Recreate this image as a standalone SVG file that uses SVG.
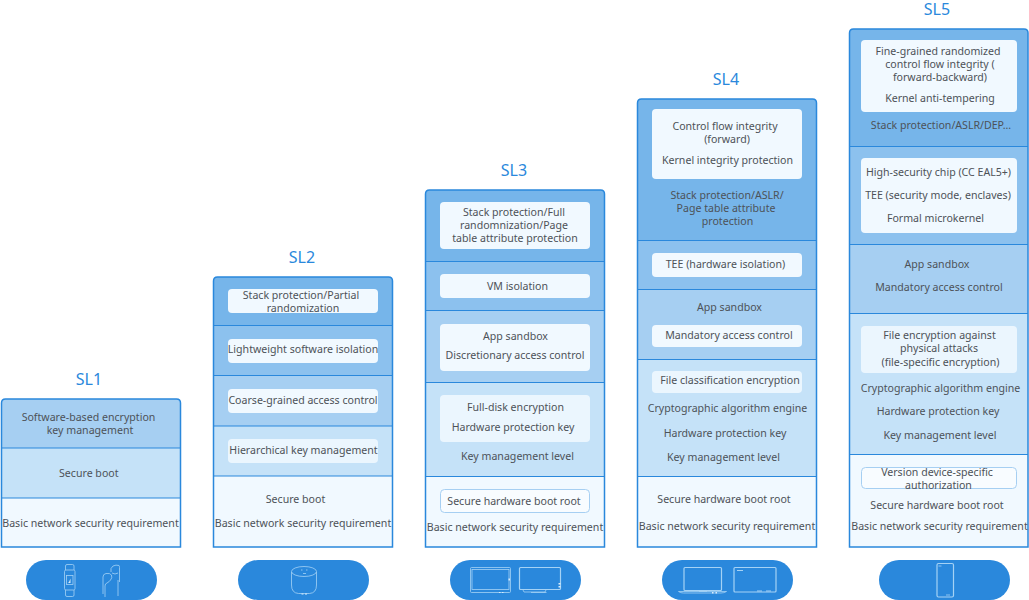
<svg xmlns="http://www.w3.org/2000/svg" width="1029" height="600" viewBox="0 0 1029 600">
<style>
text{font-family:"Noto Sans","Open Sans","Liberation Sans",sans-serif;font-size:10.6px;fill:#4d5258;text-anchor:middle}
.t{font-size:16px;fill:#2a88dc}
.o{fill:none;stroke:#2a88dc;stroke-width:1.5}
.d{stroke:#2a88dc;stroke-width:1.2;fill:none}
.a{fill:#76b5ea}.b{fill:#8cc1ee}.c{fill:#a6cff2}.e{fill:#c5e2f8}.f{fill:#f1f9ff}
.i{fill:#f1f9ff}.j{fill:#ebf6fe}.k{fill:#f8fcff;stroke:#a6cff2;stroke-width:1}
.p{fill:#2a88dc}
.g{fill:none;stroke:#a5d2f5;stroke-width:.8}
.h{fill:none;stroke:#a5d2f5;stroke-width:1.2}
.w{fill:#d8ecfb}
</style>
<g id="sl1">
<text class="t" x="89" y="385">SL1</text>
<path class="c" d="M1.5 448V403q0-4 4-4H176.500q4 0 4 4V448Z"/>
<rect class="e" x="1.500" y="448" width="179" height="50"/>
<rect class="f" x="1.500" y="498" width="179" height="49"/>
<path class="d" d="M1.500 448H180.500M1.500 498H180.500"/>
<path class="o" d="M1.500 547V403q0-4 4-4H176.500q4 0 4 4V547Z"/>
<text x="88.500" y="421">Software-based encryption</text>
<text x="90" y="434">key management</text>
<text x="88.800" y="477">Secure boot</text>
<text x="90.500" y="527">Basic network security requirement</text>
</g>
<g id="sl2">
<text class="t" x="302" y="263">SL2</text>
<path class="a" d="M213.500 325.500V281q0-4 4-4H388.500q4 0 4 4V325.500Z"/>
<rect class="b" x="213.500" y="325.500" width="179" height="50"/>
<rect class="c" x="213.500" y="375.500" width="179" height="50.500"/>
<rect class="e" x="213.500" y="426" width="179" height="50"/>
<rect class="f" x="213.500" y="476" width="179" height="71"/>
<path class="d" d="M213.500 325.500H392.500M213.500 375.500H392.500M213.500 426H392.500M213.500 476H392.500"/>
<path class="o" d="M213.500 547V281q0-4 4-4H388.500q4 0 4 4V547Z"/>
<rect class="i" x="228" y="289" width="150" height="24" rx="4"/>
<rect class="i" x="228" y="339" width="150" height="24" rx="4"/>
<rect class="i" x="228" y="389" width="150" height="24" rx="4"/>
<rect class="j" x="228" y="439" width="150" height="24" rx="4"/>
<text x="301" y="299">Stack protection/Partial</text>
<text x="303" y="312">randomization</text>
<text x="303" y="353">Lightweight software isolation</text>
<text x="303" y="403.500">Coarse-grained access control</text>
<text x="303.500" y="453.500">Hierarchical key management</text>
<text x="295.500" y="503">Secure boot</text>
<text x="303" y="527">Basic network security requirement</text>
</g>
<g id="sl3">
<text class="t" x="514" y="176">SL3</text>
<path class="a" d="M425.500 261.500V194q0-4 4-4H600.500q4 0 4 4V261.500Z"/>
<rect class="b" x="425.500" y="261.500" width="179" height="49"/>
<rect class="c" x="425.500" y="310.500" width="179" height="72"/>
<rect class="e" x="425.500" y="382.500" width="179" height="94"/>
<rect class="f" x="425.500" y="476.500" width="179" height="70.500"/>
<path class="d" d="M425.500 261.500H604.500M425.500 310.500H604.500M425.500 382.500H604.500M425.500 476.500H604.500"/>
<path class="o" d="M425.500 547V194q0-4 4-4H600.500q4 0 4 4V547Z"/>
<rect class="i" x="440" y="202" width="150" height="47" rx="4"/>
<rect class="i" x="440" y="274" width="150" height="24" rx="4"/>
<rect class="i" x="440" y="324" width="150" height="47" rx="4"/>
<rect class="j" x="440" y="395" width="150" height="47" rx="4"/>
<rect class="k" x="440.500" y="489.500" width="149" height="23" rx="4"/>
<text x="514" y="216">Stack protection/Full</text>
<text x="514" y="229">randomnization/Page</text>
<text x="515" y="242">table attribute protection</text>
<text x="517.500" y="290">VM isolation</text>
<text x="515.500" y="340">App sandbox</text>
<text x="515" y="359">Discretionary access control</text>
<text x="515.500" y="411">Full-disk encryption</text>
<text x="513" y="431">Hardware protection key</text>
<text x="517.500" y="460">Key management level</text>
<text x="514" y="505">Secure hardware boot root</text>
<text x="515" y="531">Basic network security requirement</text>
</g>
<g id="sl4">
<text class="t" x="726" y="85">SL4</text>
<path class="a" d="M637.500 240.500V103q0-4 4-4H812.500q4 0 4 4V240.500Z"/>
<rect class="b" x="637.500" y="240.500" width="179" height="49"/>
<rect class="c" x="637.500" y="289.500" width="179" height="70"/>
<rect class="e" x="637.500" y="359.500" width="179" height="117"/>
<rect class="f" x="637.500" y="476.500" width="179" height="70.500"/>
<path class="d" d="M637.500 240.500H816.500M637.500 289.500H816.500M637.500 359.500H816.500M637.500 476.500H816.500"/>
<path class="o" d="M637.500 547V103q0-4 4-4H812.500q4 0 4 4V547Z"/>
<rect class="i" x="652" y="109" width="150" height="70" rx="4"/>
<rect class="i" x="652" y="253" width="150" height="24" rx="4"/>
<rect class="i" x="652" y="325" width="150" height="22" rx="4"/>
<rect class="j" x="652" y="371" width="150" height="22" rx="4"/>
<text x="725" y="130">Control flow integrity</text>
<text x="727" y="143">(forward)</text>
<text x="727.500" y="164">Kernel integrity protection</text>
<text x="727" y="199">Stack protection/ASLR/</text>
<text x="726" y="212">Page table attribute</text>
<text x="727.500" y="225">protection</text>
<text x="725.500" y="268">TEE (hardware isolation)</text>
<text x="729.500" y="311">App sandbox</text>
<text x="729" y="339">Mandatory access control</text>
<text x="730" y="384">File classification encryption</text>
<text x="727.500" y="412">Cryptographic algorithm engine</text>
<text x="725" y="437">Hardware protection key</text>
<text x="723.500" y="461">Key management level</text>
<text x="724" y="503">Secure hardware boot root</text>
<text x="727" y="530">Basic network security requirement</text>
</g>
<g id="sl5">
<text class="t" x="937" y="15">SL5</text>
<path class="a" d="M849.500 146.500V33q0-4 4-4H1024q4 0 4 4V146.500Z"/>
<rect class="b" x="849.500" y="146.500" width="178.500" height="98"/>
<rect class="c" x="849.500" y="244.500" width="178.500" height="69"/>
<rect class="e" x="849.500" y="313.500" width="178.500" height="141"/>
<rect class="f" x="849.500" y="454.500" width="178.500" height="92.500"/>
<path class="d" d="M849.500 146.500H1028M849.500 244.500H1028M849.500 313.500H1028M849.500 454.500H1028"/>
<path class="o" d="M849.500 547V33q0-4 4-4H1024q4 0 4 4V547Z"/>
<rect class="i" x="861" y="40" width="156" height="72" rx="4"/>
<rect class="i" x="861" y="158" width="156" height="75" rx="4"/>
<rect class="j" x="861" y="326" width="156" height="47" rx="4"/>
<rect class="k" x="861.500" y="467.500" width="155" height="21" rx="4"/>
<text x="938" y="55">Fine-grained randomized</text>
<text x="940" y="68">control flow integrity (</text>
<text x="940" y="81">forward-backward)</text>
<text x="940" y="102">Kernel anti-tempering</text>
<text x="941" y="129">Stack protection/ASLR/DEP...</text>
<text x="938.500" y="176">High-security chip (CC EAL5+)</text>
<text x="938" y="199">TEE (security mode, enclaves)</text>
<text x="935.500" y="222">Formal microkernel</text>
<text x="937" y="268">App sandbox</text>
<text x="939" y="291">Mandatory access control</text>
<text x="939.500" y="339">File encryption against</text>
<text x="939" y="352">physical attacks</text>
<text x="940.500" y="366">(file-specific encryption)</text>
<text x="940.500" y="392">Cryptographic algorithm engine</text>
<text x="938" y="415">Hardware protection key</text>
<text x="940" y="439">Key management level</text>
<text x="937" y="476">Version device-specific</text>
<text x="938.500" y="489">authorization</text>
<text x="937" y="509">Secure hardware boot root</text>
<text x="939.500" y="530">Basic network security requirement</text>
</g>
<g id="device1">
<rect class="p" x="26" y="560" width="131" height="40" rx="20"/>
<path class="g" d="M65.500 570V566q0-1.500 1.500-1.500h5.500q1.500 0 1.500 1.500V570M65.500 590v5q0 1.500 1.500 1.500h5.500q1.500 0 1.500-1.500V590"/>
<rect class="g" x="64.500" y="570" width="10.500" height="20" rx="1.500"/>
<rect class="g" x="66.500" y="575.500" width="6.500" height="9"/>
<path class="w" d="M69 582l1.500-3.500v4.500h-2.500z"/>
<path class="g" d="M103 594V577q0-3 3-3.500 4-.6 5.500 1.500 1 3-1 5-1.500 2-3.500 3-2 .5-2 3V594M105 594v3"/>
<path class="g" d="M111 572q-1-4 2-6 3-1.500 6-.5 .5 .5 .5 2V582M118 580v16M112 573q3 2 6 0"/>
</g>
<g id="device2">
<rect class="p" x="238" y="560" width="131" height="40" rx="20"/>
<path class="g" d="M291.500 572V585q0 8 7 8.500h11q7-.5 7-8.500V572"/>
<ellipse class="g" cx="304" cy="571.500" rx="12.500" ry="5"/>
<path class="g" d="M301 570h1.500M306 570h1.500M303 573.500h3"/>
<path class="w" d="M301.500 593.500h2v1h-2zM305 593.500h2v1h-2z"/>
</g>
<g id="device3">
<rect class="p" x="450" y="560" width="131" height="40" rx="20"/>
<rect class="g" x="470.500" y="567.500" width="40" height="25" rx="1"/>
<rect class="g" x="472" y="569.500" width="37" height="20"/>
<path class="w" d="M499 592h1.500v1H499zM502 592h1.500v1H502zM508.500 578.500h1.500v2h-1.500z"/>
<rect class="h" x="519.500" y="567.500" width="41" height="22" rx="1"/>
<path class="g" d="M523 590l1 2H545l1-2M531 592.500h15.500"/>
<path class="w" d="M558.500 586h2v1.500h-2zM558.500 583h2v1.500h-2z"/>
</g>
<g id="device4">
<rect class="p" x="662" y="560" width="131" height="40" rx="20"/>
<rect class="h" x="684" y="567.500" width="37.500" height="23" rx="1"/>
<path class="g" d="M678.500 591.500q2 1.500 5 1.500H721q3 0 5.500-1.500ZM699 591.500h8"/>
<path class="w" d="M712 592h1.500v1.500H712zM715.500 592h1.500v1.500h-1.500z"/>
<rect class="h" x="734" y="567.500" width="42" height="24.500" rx="1"/>
<path class="h" d="M737 570.500h6M757 591h5M766 591h5"/>
</g>
<g id="device5">
<rect class="p" x="879" y="560" width="131" height="40" rx="20"/>
<rect class="h" x="937" y="563.500" width="16.500" height="33.500" rx="1.500"/>
<path class="g" d="M938.500 566h3M946 595h4"/>
</g>
</svg>
